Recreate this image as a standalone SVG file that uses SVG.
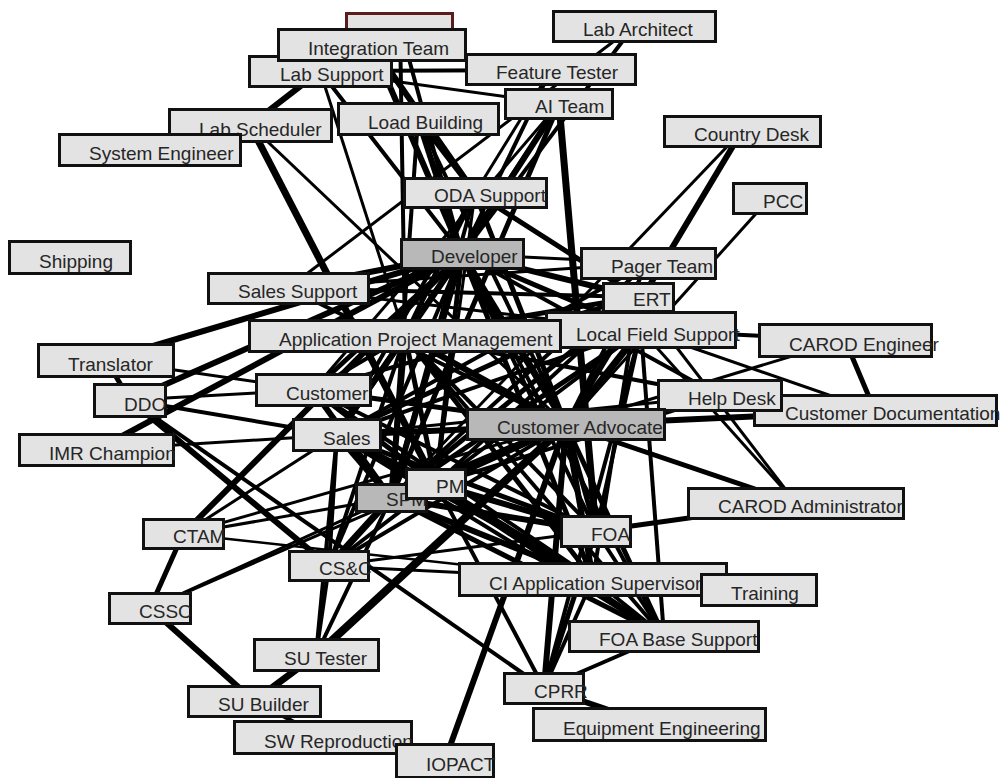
<svg xmlns="http://www.w3.org/2000/svg" width="1001" height="778" viewBox="0 0 1001 778">
<style>
  #edges line { stroke: #000; stroke-linecap: butt; }
  .node rect { fill: #e3e3e3; stroke: #111; stroke-width: 3; }
  .node.dark rect { fill: #b8b8b8; }
  .node text { font-family: "Liberation Sans", Arial, Helvetica, sans-serif; font-size: 19px; fill: #262626; }
</style>
<rect width="1001" height="778" fill="#fff"/>

<!-- connectors: centre to centre, width = strength of the link -->
<g id="edges">
  <line x1="320" y1="71" x2="250" y2="125" stroke-width="6"/>
  <line x1="320" y1="71" x2="405" y2="336" stroke-width="3"/>
  <line x1="320" y1="71" x2="462" y2="254" stroke-width="4"/>
  <line x1="320" y1="71" x2="551" y2="70" stroke-width="4"/>
  <line x1="320" y1="71" x2="559" y2="104" stroke-width="3"/>
  <line x1="372" y1="45" x2="475" y2="193" stroke-width="6"/>
  <line x1="372" y1="45" x2="462" y2="254" stroke-width="6"/>
  <line x1="400" y1="26" x2="462" y2="254" stroke-width="4"/>
  <line x1="400" y1="26" x2="405" y2="336" stroke-width="4"/>
  <line x1="250" y1="125" x2="436" y2="484" stroke-width="7"/>
  <line x1="250" y1="125" x2="566" y2="425" stroke-width="3"/>
  <line x1="634" y1="26" x2="462" y2="254" stroke-width="4"/>
  <line x1="634" y1="26" x2="288" y2="288" stroke-width="3"/>
  <line x1="551" y1="70" x2="462" y2="254" stroke-width="4"/>
  <line x1="551" y1="70" x2="475" y2="193" stroke-width="3"/>
  <line x1="559" y1="104" x2="462" y2="254" stroke-width="6"/>
  <line x1="559" y1="104" x2="391" y2="498" stroke-width="5"/>
  <line x1="559" y1="104" x2="596" y2="531" stroke-width="7"/>
  <line x1="559" y1="104" x2="405" y2="336" stroke-width="4"/>
  <line x1="559" y1="104" x2="313" y2="390" stroke-width="3"/>
  <line x1="418" y1="119" x2="475" y2="193" stroke-width="5"/>
  <line x1="418" y1="119" x2="462" y2="254" stroke-width="6"/>
  <line x1="418" y1="119" x2="566" y2="425" stroke-width="4"/>
  <line x1="418" y1="119" x2="391" y2="498" stroke-width="4"/>
  <line x1="742" y1="131" x2="566" y2="425" stroke-width="6"/>
  <line x1="742" y1="131" x2="391" y2="498" stroke-width="3"/>
  <line x1="770" y1="198" x2="566" y2="425" stroke-width="3"/>
  <line x1="475" y1="193" x2="638" y2="297" stroke-width="5"/>
  <line x1="475" y1="193" x2="566" y2="425" stroke-width="5"/>
  <line x1="475" y1="193" x2="405" y2="336" stroke-width="5"/>
  <line x1="475" y1="193" x2="337" y2="435" stroke-width="4"/>
  <line x1="475" y1="193" x2="391" y2="498" stroke-width="4"/>
  <line x1="475" y1="193" x2="436" y2="484" stroke-width="3"/>
  <line x1="462" y1="254" x2="648" y2="263" stroke-width="3"/>
  <line x1="288" y1="288" x2="648" y2="263" stroke-width="3"/>
  <line x1="462" y1="254" x2="638" y2="297" stroke-width="6"/>
  <line x1="462" y1="254" x2="641" y2="330" stroke-width="5"/>
  <line x1="462" y1="254" x2="720" y2="396" stroke-width="4"/>
  <line x1="462" y1="254" x2="566" y2="425" stroke-width="7"/>
  <line x1="462" y1="254" x2="313" y2="390" stroke-width="5"/>
  <line x1="462" y1="254" x2="337" y2="435" stroke-width="6"/>
  <line x1="462" y1="254" x2="391" y2="498" stroke-width="6"/>
  <line x1="462" y1="254" x2="436" y2="484" stroke-width="5"/>
  <line x1="462" y1="254" x2="596" y2="531" stroke-width="4"/>
  <line x1="462" y1="254" x2="593" y2="579" stroke-width="5"/>
  <line x1="462" y1="254" x2="664" y2="636" stroke-width="4"/>
  <line x1="462" y1="254" x2="329" y2="566" stroke-width="4"/>
  <line x1="462" y1="254" x2="288" y2="288" stroke-width="6"/>
  <line x1="462" y1="254" x2="183" y2="534" stroke-width="6"/>
  <line x1="462" y1="254" x2="130" y2="400" stroke-width="6"/>
  <line x1="462" y1="254" x2="106" y2="360" stroke-width="6"/>
  <line x1="462" y1="254" x2="96" y2="450" stroke-width="6"/>
  <line x1="288" y1="288" x2="638" y2="297" stroke-width="4"/>
  <line x1="288" y1="288" x2="566" y2="425" stroke-width="4"/>
  <line x1="288" y1="288" x2="641" y2="330" stroke-width="3"/>
  <line x1="405" y1="336" x2="566" y2="425" stroke-width="6"/>
  <line x1="405" y1="336" x2="638" y2="297" stroke-width="5"/>
  <line x1="405" y1="336" x2="720" y2="396" stroke-width="4"/>
  <line x1="405" y1="336" x2="391" y2="498" stroke-width="6"/>
  <line x1="405" y1="336" x2="436" y2="484" stroke-width="5"/>
  <line x1="405" y1="336" x2="337" y2="435" stroke-width="6"/>
  <line x1="405" y1="336" x2="313" y2="390" stroke-width="4"/>
  <line x1="405" y1="336" x2="596" y2="531" stroke-width="4"/>
  <line x1="405" y1="336" x2="593" y2="579" stroke-width="5"/>
  <line x1="405" y1="336" x2="664" y2="636" stroke-width="4"/>
  <line x1="405" y1="336" x2="329" y2="566" stroke-width="4"/>
  <line x1="648" y1="263" x2="391" y2="498" stroke-width="4"/>
  <line x1="648" y1="263" x2="337" y2="435" stroke-width="4"/>
  <line x1="648" y1="263" x2="566" y2="425" stroke-width="4"/>
  <line x1="638" y1="297" x2="391" y2="498" stroke-width="5"/>
  <line x1="638" y1="297" x2="436" y2="484" stroke-width="4"/>
  <line x1="638" y1="297" x2="337" y2="435" stroke-width="5"/>
  <line x1="638" y1="297" x2="313" y2="390" stroke-width="4"/>
  <line x1="638" y1="297" x2="796" y2="503" stroke-width="3"/>
  <line x1="638" y1="297" x2="593" y2="579" stroke-width="4"/>
  <line x1="641" y1="330" x2="845" y2="340" stroke-width="4"/>
  <line x1="641" y1="330" x2="875" y2="411" stroke-width="3"/>
  <line x1="641" y1="330" x2="796" y2="503" stroke-width="3"/>
  <line x1="641" y1="330" x2="566" y2="425" stroke-width="7"/>
  <line x1="641" y1="330" x2="391" y2="498" stroke-width="5"/>
  <line x1="641" y1="330" x2="337" y2="435" stroke-width="4"/>
  <line x1="641" y1="330" x2="436" y2="484" stroke-width="4"/>
  <line x1="641" y1="330" x2="596" y2="531" stroke-width="4"/>
  <line x1="641" y1="330" x2="664" y2="636" stroke-width="4"/>
  <line x1="641" y1="330" x2="544" y2="688" stroke-width="4"/>
  <line x1="845" y1="340" x2="566" y2="425" stroke-width="3"/>
  <line x1="845" y1="340" x2="875" y2="411" stroke-width="5"/>
  <line x1="720" y1="396" x2="391" y2="498" stroke-width="4"/>
  <line x1="720" y1="396" x2="337" y2="435" stroke-width="3"/>
  <line x1="566" y1="425" x2="875" y2="411" stroke-width="6"/>
  <line x1="566" y1="425" x2="796" y2="503" stroke-width="5"/>
  <line x1="566" y1="425" x2="391" y2="498" stroke-width="7"/>
  <line x1="566" y1="425" x2="436" y2="484" stroke-width="6"/>
  <line x1="566" y1="425" x2="337" y2="435" stroke-width="6"/>
  <line x1="566" y1="425" x2="313" y2="390" stroke-width="5"/>
  <line x1="566" y1="425" x2="596" y2="531" stroke-width="5"/>
  <line x1="566" y1="425" x2="593" y2="579" stroke-width="6"/>
  <line x1="566" y1="425" x2="664" y2="636" stroke-width="5"/>
  <line x1="566" y1="425" x2="544" y2="688" stroke-width="6"/>
  <line x1="566" y1="425" x2="445" y2="760" stroke-width="6"/>
  <line x1="566" y1="425" x2="316" y2="655" stroke-width="8"/>
  <line x1="566" y1="425" x2="183" y2="534" stroke-width="3"/>
  <line x1="566" y1="425" x2="329" y2="566" stroke-width="4"/>
  <line x1="106" y1="360" x2="130" y2="400" stroke-width="5"/>
  <line x1="106" y1="360" x2="313" y2="390" stroke-width="3"/>
  <line x1="130" y1="400" x2="313" y2="390" stroke-width="3"/>
  <line x1="130" y1="400" x2="337" y2="435" stroke-width="4"/>
  <line x1="130" y1="400" x2="329" y2="566" stroke-width="6"/>
  <line x1="130" y1="400" x2="544" y2="688" stroke-width="4"/>
  <line x1="96" y1="450" x2="337" y2="435" stroke-width="3"/>
  <line x1="313" y1="390" x2="391" y2="498" stroke-width="6"/>
  <line x1="313" y1="390" x2="436" y2="484" stroke-width="5"/>
  <line x1="313" y1="390" x2="593" y2="579" stroke-width="4"/>
  <line x1="313" y1="390" x2="596" y2="531" stroke-width="4"/>
  <line x1="337" y1="435" x2="391" y2="498" stroke-width="6"/>
  <line x1="337" y1="435" x2="436" y2="484" stroke-width="6"/>
  <line x1="337" y1="435" x2="593" y2="579" stroke-width="5"/>
  <line x1="337" y1="435" x2="596" y2="531" stroke-width="5"/>
  <line x1="337" y1="435" x2="664" y2="636" stroke-width="4"/>
  <line x1="337" y1="435" x2="329" y2="566" stroke-width="4"/>
  <line x1="337" y1="435" x2="183" y2="534" stroke-width="3"/>
  <line x1="337" y1="435" x2="316" y2="655" stroke-width="4"/>
  <line x1="391" y1="498" x2="329" y2="566" stroke-width="7"/>
  <line x1="391" y1="498" x2="596" y2="531" stroke-width="6"/>
  <line x1="391" y1="498" x2="593" y2="579" stroke-width="6"/>
  <line x1="391" y1="498" x2="664" y2="636" stroke-width="5"/>
  <line x1="391" y1="498" x2="316" y2="655" stroke-width="4"/>
  <line x1="391" y1="498" x2="183" y2="534" stroke-width="3"/>
  <line x1="391" y1="498" x2="150" y2="608" stroke-width="3"/>
  <line x1="436" y1="484" x2="596" y2="531" stroke-width="6"/>
  <line x1="436" y1="484" x2="593" y2="579" stroke-width="5"/>
  <line x1="436" y1="484" x2="664" y2="636" stroke-width="6"/>
  <line x1="436" y1="484" x2="329" y2="566" stroke-width="4"/>
  <line x1="436" y1="484" x2="544" y2="688" stroke-width="4"/>
  <line x1="436" y1="484" x2="150" y2="608" stroke-width="3"/>
  <line x1="329" y1="566" x2="593" y2="579" stroke-width="3"/>
  <line x1="329" y1="566" x2="596" y2="531" stroke-width="3"/>
  <line x1="329" y1="566" x2="316" y2="655" stroke-width="4"/>
  <line x1="183" y1="534" x2="593" y2="579" stroke-width="2.5"/>
  <line x1="183" y1="534" x2="150" y2="608" stroke-width="5"/>
  <line x1="150" y1="608" x2="254" y2="701" stroke-width="6"/>
  <line x1="316" y1="655" x2="254" y2="701" stroke-width="7"/>
  <line x1="254" y1="701" x2="323" y2="737" stroke-width="4"/>
  <line x1="596" y1="531" x2="796" y2="503" stroke-width="5"/>
  <line x1="596" y1="531" x2="544" y2="688" stroke-width="5"/>
  <line x1="596" y1="531" x2="664" y2="636" stroke-width="4"/>
  <line x1="593" y1="579" x2="664" y2="636" stroke-width="4"/>
  <line x1="593" y1="579" x2="544" y2="688" stroke-width="4"/>
  <line x1="544" y1="688" x2="664" y2="636" stroke-width="4"/>
  <line x1="544" y1="688" x2="650" y2="724" stroke-width="6"/>
</g>

<!-- role boxes: label starts 31px in from the left edge -->
<g id="lab-ccc" class="node"><rect x="346.5" y="13.5" width="106" height="26" style="stroke:#5a1c1c"/></g>
<g id="lab-support" class="node"><rect x="249.5" y="56.5" width="142" height="30"/><text x="280" y="81">Lab Support</text></g>
<g id="integration-team" class="node"><rect x="278.5" y="29.5" width="187" height="31"/><text x="308" y="55">Integration Team</text></g>
<g id="lab-architect" class="node"><rect x="553.5" y="11.5" width="162" height="30"/><text x="583" y="36">Lab Architect</text></g>
<g id="feature-tester" class="node"><rect x="466.5" y="54.5" width="169" height="30"/><text x="496" y="79">Feature Tester</text></g>
<g id="ai-team" class="node"><rect x="505.5" y="89.5" width="107" height="29"/><text x="535" y="113">AI Team</text></g>
<g id="load-building" class="node"><rect x="338.5" y="103.5" width="160" height="31"/><text x="368" y="129">Load Building</text></g>
<g id="lab-scheduler" class="node"><rect x="169.5" y="109.5" width="162" height="32"/><text x="199" y="136">Lab Scheduler</text></g>
<g id="system-engineer" class="node"><rect x="59.5" y="134.5" width="181" height="31"/><text x="89" y="160">System Engineer</text></g>
<g id="country-desk" class="node"><rect x="664.5" y="116.5" width="156" height="30"/><text x="694" y="141">Country Desk</text></g>
<g id="pcc" class="node"><rect x="733.5" y="183.5" width="73" height="30"/><text x="763" y="208">PCC</text></g>
<g id="oda-support" class="node"><rect x="404.5" y="178.5" width="142" height="29"/><text x="434" y="202">ODA Support</text></g>
<g id="developer" class="node dark"><rect x="401.5" y="239.5" width="122" height="29"/><text x="431" y="263">Developer</text></g>
<g id="pager-team" class="node"><rect x="581.5" y="248.5" width="134" height="30"/><text x="611" y="273">Pager Team</text></g>
<g id="shipping" class="node"><rect x="9.5" y="241.5" width="121" height="32"/><text x="39" y="268">Shipping</text></g>
<g id="sales-support" class="node"><rect x="208.5" y="273.5" width="160" height="30"/><text x="238" y="298">Sales Support</text></g>
<g id="local-field-support" class="node"><rect x="546.5" y="312.5" width="189" height="35"/><text x="576" y="341">Local Field Support</text></g>
<g id="ert" class="node"><rect x="603.5" y="283.5" width="70" height="28"/><text x="633" y="306">ERT</text></g>
<g id="app-project-mgmt" class="node"><rect x="249.5" y="320.5" width="311" height="31"/><text x="279" y="346">Application Project Management</text></g>
<g id="carod-engineer" class="node"><rect x="759.5" y="324.5" width="172" height="32"/><text x="789" y="351">CAROD Engineer</text></g>
<g id="translator" class="node"><rect x="38.5" y="344.5" width="135" height="32"/><text x="68" y="371">Translator</text></g>
<g id="ddo" class="node"><rect x="94.5" y="384.5" width="71" height="32"/><text x="124" y="411">DDO</text></g>
<g id="customer" class="node"><rect x="256.5" y="374.5" width="114" height="31"/><text x="286" y="400">Customer</text></g>
<g id="imr-champion" class="node"><rect x="19.5" y="434.5" width="154" height="31"/><text x="49" y="460">IMR Champion</text></g>
<g id="sales" class="node"><rect x="293.5" y="419.5" width="87" height="31"/><text x="323" y="445">Sales</text></g>
<g id="customer-documentation" class="node"><rect x="754.5" y="395.5" width="242" height="30"/><text x="785" y="420">Customer Documentation</text></g>
<g id="help-desk" class="node"><rect x="658.5" y="380.5" width="123" height="30"/><text x="688" y="405">Help Desk</text></g>
<g id="customer-advocate" class="node dark"><rect x="467.5" y="409.5" width="197" height="30"/><text x="497" y="434">Customer Advocate</text></g>
<g id="spm" class="node dark"><rect x="356.5" y="484.5" width="70" height="27"/><text x="386" y="506">SPM</text></g>
<g id="pm" class="node"><rect x="406.5" y="469.5" width="59" height="29"/><text x="436" y="493">PM</text></g>
<g id="ctam" class="node"><rect x="143.5" y="519.5" width="80" height="29"/><text x="173" y="543">CTAM</text></g>
<g id="cs-c" class="node"><rect x="289.5" y="551.5" width="79" height="29"/><text x="319" y="575">CS&amp;C</text></g>
<g id="carod-administrator" class="node"><rect x="688.5" y="488.5" width="215" height="30"/><text x="718" y="513">CAROD Administrator</text></g>
<g id="foa" class="node"><rect x="561.5" y="516.5" width="69" height="30"/><text x="591" y="541">FOA</text></g>
<g id="ci-app-supervisor" class="node"><rect x="459.5" y="563.5" width="267" height="32"/><text x="489" y="590">CI Application Supervisor</text></g>
<g id="training" class="node"><rect x="701.5" y="574.5" width="115" height="31"/><text x="731" y="600">Training</text></g>
<g id="foa-base-support" class="node"><rect x="569.5" y="621.5" width="189" height="30"/><text x="599" y="646">FOA Base Support</text></g>
<g id="cprr" class="node"><rect x="504.5" y="673.5" width="79" height="30"/><text x="534" y="698">CPRR</text></g>
<g id="equipment-engineering" class="node"><rect x="533.5" y="708.5" width="232" height="32"/><text x="563" y="735">Equipment Engineering</text></g>
<g id="cssc" class="node"><rect x="109.5" y="593.5" width="81" height="30"/><text x="139" y="618">CSSC</text></g>
<g id="su-tester" class="node"><rect x="254.5" y="639.5" width="124" height="31"/><text x="284" y="665">SU Tester</text></g>
<g id="su-builder" class="node"><rect x="188.5" y="686.5" width="132" height="30"/><text x="218" y="711">SU Builder</text></g>
<g id="sw-reproduction" class="node"><rect x="234.5" y="721.5" width="177" height="32"/><text x="264" y="748">SW Reproduction</text></g>
<g id="iopact" class="node"><rect x="396.5" y="744.5" width="97" height="33"/><text x="426" y="771">IOPACT</text></g>
</svg>
